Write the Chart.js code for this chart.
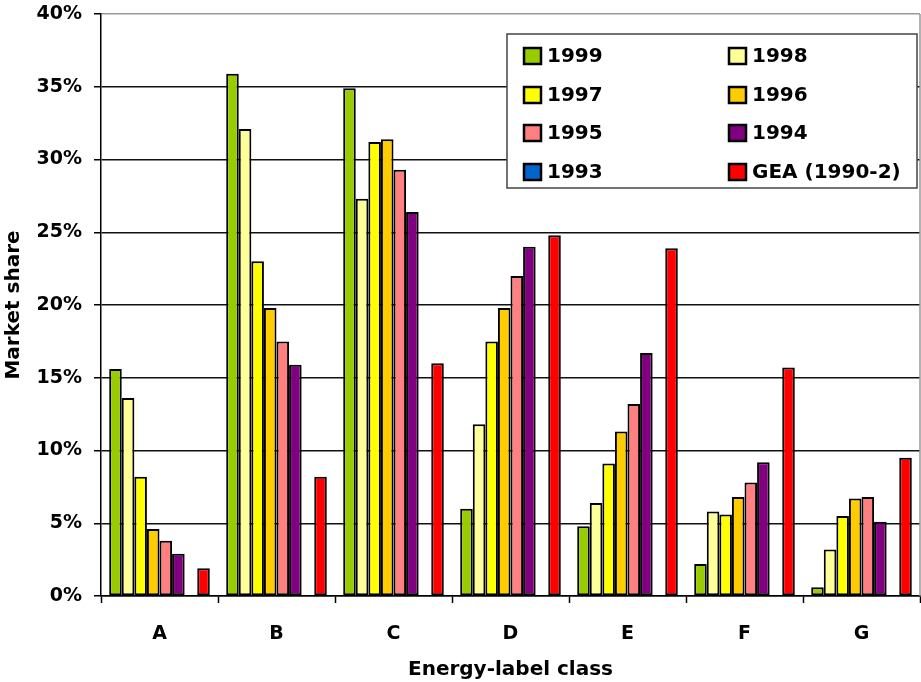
<!DOCTYPE html>
<html>
<head>
<meta charset="utf-8">
<script src="https://cdn.jsdelivr.net/npm/chart.js@4/dist/chart.umd.min.js"></script>
<style>
  body { margin: 0; background: #ffffff; }
  #MarketChart { display: block; }
</style>
</head>
<body>
<canvas id="MarketChart" width="921" height="682"></canvas>
<script>
const MarketChartElement = document.getElementById("MarketChart");

// energy-label classes on the x axis
const CLASSES = ['A', 'B', 'C', 'D', 'E', 'F', 'G'];

// market share (%) per class
const SHARE_1999 = [15.6, 35.9, 34.9, 6.0, 4.8, 2.2, 0.6];
const SHARE_1998 = [13.6, 32.1, 27.3, 11.8, 6.4, 5.8, 3.2];
const SHARE_1997 = [8.2, 23.0, 31.2, 17.5, 9.1, 5.6, 5.5];
const SHARE_1996 = [4.6, 19.8, 31.4, 19.8, 11.3, 6.8, 6.7];
const SHARE_1995 = [3.8, 17.5, 29.3, 22.0, 13.2, 7.8, 6.8];
const SHARE_1994 = [2.9, 15.9, 26.4, 24.0, 16.7, 9.2, 5.1];
const SHARE_1993 = [0, 0, 0, 0, 0, 0, 0];
const SHARE_GEA = [1.9, 8.2, 16.0, 24.8, 23.9, 15.7, 9.5];

const SERIES_LABELS = ['1999', '1998', '1997', '1996', '1995', '1994', '1993', 'GEA (1990-2)'];
const SERIES_VALUES = [SHARE_1999, SHARE_1998, SHARE_1997, SHARE_1996, SHARE_1995, SHARE_1994, SHARE_1993, SHARE_GEA];

const Y_TICKS = [0, 5, 10, 15, 20, 25, 30, 35, 40];

const COLORS = [
    '#99CC00',
    '#FFFF99',
    '#FFFF00',
    '#FFCC00',
    '#FF8080',
    '#800080',
    '#0066CC',
    '#FF0000'
];

const FONT_FAMILY = "'DejaVu Sans', 'Liberation Sans', Arial, sans-serif";

Chart.defaults.font.family = FONT_FAMILY;
Chart.defaults.font.weight = 'bold';
Chart.defaults.color = '#000000';


function GetDatasets()
{
    var Datasets = [];
    for (let i=0; i<SERIES_LABELS.length; i++)
    {
        Datasets[i] = {
            label: SERIES_LABELS[i],
            data: SERIES_VALUES[i],
            backgroundColor: COLORS[i],
            borderColor: '#000000',
            borderWidth: 2,
            borderSkipped: false
        };
    }
    return Datasets;
}

// legend in a white box inside the plot, two columns
const BoxLegendPlugin = {
    id: 'boxLegend',
    afterDatasetsDraw(chart) {
        const ctx = chart.ctx;
        const boxLeft = 507, boxTop = 34, boxWidth = 410, boxHeight = 154;
        const colX = [524, 729];
        const rowY = [56, 95, 133, 172];

        ctx.save();
        ctx.fillStyle = '#ffffff';
        ctx.fillRect(boxLeft, boxTop, boxWidth, boxHeight);
        ctx.strokeStyle = '#444444';
        ctx.lineWidth = 1.5;
        ctx.strokeRect(boxLeft, boxTop, boxWidth, boxHeight);

        ctx.font = "bold 20px " + FONT_FAMILY;
        ctx.textBaseline = 'middle';
        ctx.textAlign = 'left';

        chart.data.datasets.forEach((ds, i) => {
            const x = colX[i % 2];
            const y = rowY[Math.floor(i / 2)];
            ctx.fillStyle = ds.backgroundColor;
            ctx.fillRect(x, y - 8, 17, 16);
            ctx.strokeStyle = '#000000';
            ctx.lineWidth = 2.5;
            ctx.strokeRect(x, y - 8, 17, 16);
            ctx.fillStyle = '#000000';
            ctx.fillText(ds.label, x + 23, y + 1);
        });
        ctx.restore();
    },
    afterDraw(chart) {
        // light frame on the right side of the plot
        const a = chart.chartArea;
        const ctx = chart.ctx;
        ctx.save();
        ctx.strokeStyle = '#999999';
        ctx.lineWidth = 1.5;
        ctx.beginPath();
        ctx.moveTo(a.right, a.top);
        ctx.lineTo(a.right, a.bottom);
        ctx.stroke();
        ctx.restore();
    }
};

function RenderMarketChart()
{
    return new Chart(MarketChartElement, {
        type: 'bar',
        data: {
            labels: CLASSES,
            datasets: GetDatasets()
        },
        options: {
            responsive: false,
            animation: false,
            datasets: {
                bar: {
                    categoryPercentage: 0.86,
                    barPercentage: 1.0
                }
            },
            layout: {
                padding: { top: 14, right: 1, left: 0, bottom: 0 }
            },
            scales: {
                x: {
                    grid: {
                        offset: true,
                        drawOnChartArea: false,
                        tickLength: 7,
                        tickColor: '#000000',
                        tickWidth: 1.5
                    },
                    border: { display: true, color: '#000000', width: 1.5 },
                    ticks: {
                        padding: 20,
                        font: { size: 19, weight: 'bold' }
                    },
                    title: {
                        display: true,
                        text: 'Energy-label class',
                        font: { size: 20, weight: 'bold', lineHeight: 1.2 },
                        padding: { top: 0, bottom: 0 }
                    },
                    afterFit: (scale) => { scale.height = 86; }
                },
                y: {
                    min: 0,
                    max: 40,
                    afterBuildTicks: (scale) => {
                        scale.ticks = Y_TICKS.map(v => ({ value: v }));
                    },
                    grid: {
                        color: (c) => (c.tick && c.tick.value === 40) ? '#9a9a9a' : '#111111',
                        lineWidth: 1.5,
                        tickLength: 7,
                        tickColor: '#000000',
                        tickWidth: 1.5
                    },
                    border: { display: true, color: '#000000', width: 1.5 },
                    ticks: {
                        padding: 12,
                        font: { size: 19, weight: 'bold' },
                        callback: (value) => value + '%'
                    },
                    title: {
                        display: true,
                        text: 'Market share',
                        font: { size: 20, weight: 'bold', lineHeight: 1.2 },
                        padding: { top: 1.5, bottom: 0 }
                    },
                    afterFit: (scale) => {
                        scale.width = 101;
                        scale.paddingTop = 0;
                        scale.paddingBottom = 0;
                    }
                }
            },
            plugins: {
                legend: { display: false },
                tooltip: { enabled: false }
            }
        },
        plugins: [BoxLegendPlugin]
    });
}

var MarketChartVar = RenderMarketChart();
console.log("chart area: ", MarketChartVar.chartArea);
</script>
</body>
</html>
